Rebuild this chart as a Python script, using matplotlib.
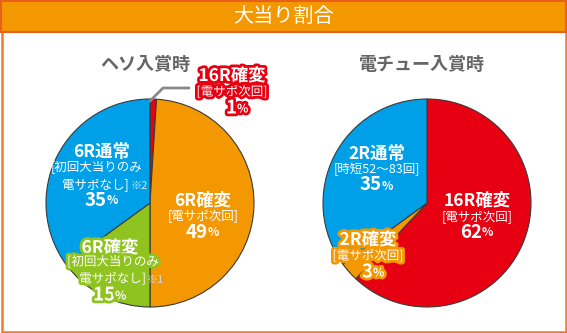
import matplotlib
matplotlib.use('Agg')
import matplotlib.pyplot as plt
import matplotlib.patheffects as pe
from matplotlib.patches import Rectangle

plt.rcParams['font.family'] = ['Noto Sans CJK JP', 'DejaVu Sans']

W, H = 567, 333

# big-hit ratios
title = '大当り割合'
heso_title = 'ヘソ入賞時'
heso_vals = [1, 49, 15, 35]
heso_colors = ['#E60012', '#F39800', '#8FC31F', '#00A0E9']
heso_names = ['16R確変', '6R確変', '6R確変', '6R通常']

den_title = '電チュー入賞時'
den_vals = [62, 3, 35]
den_colors = ['#E60012', '#F39800', '#00A0E9']
den_names = ['16R確変', '2R確変', '2R通常']

fig = plt.figure(figsize=(W / 100, H / 100), dpi=100)
ax = fig.add_axes([0, 0, 1, 1])


def Y(y):
    # pixel rows counted from the top
    return H - y


def label(x, y, name, notes, pct, py, stroke=None):
    """Stacked white label: bold name, bracket lines, bold percentage."""
    fx = [pe.withStroke(linewidth=4, foreground=stroke)] if stroke else None
    ax.text(x, Y(y), name, color='white', fontsize=12.5, fontweight='bold',
            ha='center', va='center', path_effects=fx, zorder=5)
    for nx, ny, s, ha in notes:
        ax.text(nx, Y(ny), s, color='white', fontsize=9,
                ha=ha, va='center', path_effects=fx, zorder=5)
    off = 5
    ax.text(x + off, Y(py), str(pct), color='white', fontsize=13.5,
            fontweight='bold', ha='right', va='center', path_effects=fx, zorder=5)
    ax.text(x + off, Y(py) - 1, '%', color='white', fontsize=8.5,
            fontweight='bold', ha='left', va='center', path_effects=fx, zorder=5)


def note_mark(x, y, s, color):
    ax.text(x, Y(y), s, color=color, fontsize=8, ha='left', va='center', zorder=5)


# pies
wp = dict(edgecolor='#3a3a3a', linewidth=0.8)
ax.pie(heso_vals, colors=heso_colors, center=(150, Y(203)), radius=104,
       startangle=90, counterclock=False, wedgeprops=wp)
ax.pie(den_vals, colors=den_colors, center=(427, Y(203)), radius=104,
       startangle=90, counterclock=False, wedgeprops=wp)

ax.set_xlim(0, W)
ax.set_ylim(0, H)
ax.set_aspect('auto')
ax.axis('off')

# frame and header bar
ax.add_patch(Rectangle((1.5, 1.5), W - 3, H - 3, fill=False,
                       edgecolor='#EE7B30', linewidth=1.8, zorder=1))
ax.add_patch(Rectangle((1, Y(32)), W - 2, 31, facecolor='#F39800',
                       edgecolor='#E8601C', linewidth=1.5, zorder=2))
ax.text(W / 2, Y(16), title, color='white', fontsize=14.5,
        ha='center', va='center', zorder=3)

ax.text(145, Y(64), heso_title, color='#666666', fontsize=13, fontweight='bold',
        ha='center', va='center')
ax.text(422, Y(64), den_title, color='#666666', fontsize=13, fontweight='bold',
        ha='center', va='center')

# leader for the thin 16R slice
ax.plot([149, 163, 190], [Y(102), Y(88), Y(88)], color='#888888',
        linewidth=2, solid_capstyle='butt', zorder=4)

label(232, 76, heso_names[0], [(232, 92, '[電サポ次回]', 'center')],
      heso_vals[0], 108, stroke=heso_colors[0])
label(203, 201, heso_names[1], [(203, 216, '[電サポ次回]', 'center')],
      heso_vals[1], 232)
label(102, 152, heso_names[3],
      [(97, 168, '[初回大当りのみ', 'center'), (129, 185, '電サポなし]', 'right')],
      heso_vals[3], 200)
note_mark(130, 186, '※2', '#cfeaf8')
label(110, 248, heso_names[2],
      [(113, 262, '[初回大当りのみ', 'center'), (146, 279, '電サポなし]', 'right')],
      heso_vals[2], 295, stroke=heso_colors[2])
note_mark(147, 280, '※1', '#d9d9d9')

label(377, 154, den_names[2], [(377, 169, '[時短52～83回]', 'center')],
      den_vals[2], 185)
label(477, 201, den_names[0], [(477, 217, '[電サポ次回]', 'center')],
      den_vals[0], 232)
label(368, 240, den_names[1], [(368, 256, '[電サポ次回]', 'center')],
      den_vals[1], 272, stroke=den_colors[1])

fig.savefig('out.png', dpi=100)
